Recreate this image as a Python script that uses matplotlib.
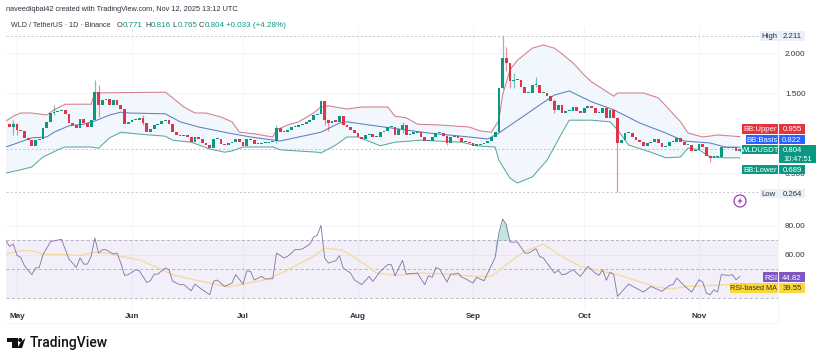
import numpy as np
import matplotlib
matplotlib.use('Agg')
import matplotlib.pyplot as plt
from matplotlib.patches import Rectangle, Circle, Polygon

plt.rcParams['font.family'] = ['Liberation Sans', 'DejaVu Sans']

W, H = 825, 361

# day numbers count from May 1
month_days = [0, 31, 61, 92, 123, 153, 184]
month_labels = ['May', 'Jun', 'Jul', 'Aug', 'Sep', 'Oct', 'Nov']

first_open = 1.11
closes = [
    1.075, 1.11, 1.04, 1.025, 0.94, 0.91, 0.84, 0.91, 0.925, 1.06,
    1.14, 1.25, 1.26, 1.275, 1.29, 1.24, 1.125, 1.10, 1.06, 1.175,
    1.125, 1.075, 1.16, 1.51, 1.35, 1.41, 1.425, 1.35, 1.41, 1.35,
    1.30, 1.11, 1.14, 1.16, 1.16, 1.19, 1.125, 1.01, 1.05, 1.10,
    1.11, 1.15, 1.16, 1.11, 1.01, 0.975, 0.96, 0.975, 0.95, 0.885,
    0.95, 0.925, 0.875, 0.85, 0.81, 0.925, 0.925, 0.865, 0.85, 0.875,
    0.885, 0.925, 0.885, 0.84, 0.925, 0.91, 0.86, 0.86, 0.875, 0.875,
    0.885, 0.90, 1.06, 1.01, 1.01, 1.04, 1.075, 1.075, 1.10, 1.11,
    1.14, 1.16, 1.225, 1.24, 1.40, 1.16, 1.125, 1.15, 1.14, 1.21,
    1.10, 1.075, 1.04, 1.00, 0.95, 0.925, 0.975, 0.99, 0.95, 0.95,
    1.01, 1.025, 1.075, 1.075, 0.975, 1.05, 1.10, 0.975, 0.99, 1.00,
    1.01, 0.95, 0.90, 0.90, 0.95, 1.00, 1.00, 0.96, 0.875, 0.95,
    0.95, 0.94, 0.885, 0.885, 0.875, 0.84, 0.85, 0.86, 0.875, 0.90,
    0.95, 1.01, 1.56, 1.94, 1.875, 1.65, 1.66, 1.66, 1.575, 1.50,
    1.50, 1.60, 1.60, 1.50, 1.50, 1.46, 1.40, 1.29, 1.35, 1.25,
    1.275, 1.275, 1.325, 1.275, 1.25, 1.31, 1.335, 1.31, 1.25, 1.25,
    1.31, 1.19, 1.29, 1.19, 0.875, 0.91, 1.00, 1.00, 0.95, 0.91,
    0.885, 0.84, 0.875, 0.885, 0.925, 0.875, 0.825, 0.84, 0.885, 0.885,
    0.94, 0.885, 0.85, 0.85, 0.775, 0.79, 0.86, 0.825, 0.715, 0.69,
    0.70, 0.70, 0.825, 0.81, 0.81, 0.825, 0.771, 0.804,
]

# only the wicks that can be made out in the picture
wick_days = [-1, 0, 10, 21, 22, 34, 70, 83, 84, 104, 116, 131, 132, 133, 134, 140, 145, 162, 187, 195]
wick_highs = [1.16, 1.13, 1.35, 1.66, 1.60, 1.22, 1.10, 1.40, 1.16, 1.14, 0.98, 2.211, 2.075, 1.88, 1.75, 1.70, 1.42, 1.20, 0.73, 0.816]
wick_lows = [0.98, 0.98, 1.22, 1.45, 1.20, 1.10, 0.88, 1.10, 1.03, 1.00, 0.85, 1.55, 1.78, 1.56, 1.56, 1.58, 1.25, 0.264, 0.635, 0.765]

upper_days = [-3, -1, 1, 4, 8, 10, 13, 17, 20, 21, 28, 40, 42, 45, 48, 51, 55, 58, 60, 64, 69, 70, 73, 76, 80, 82, 84, 89, 93, 100, 102, 105, 108, 114, 122, 125, 128, 130, 131, 133, 135, 139, 142, 145, 147, 150, 153, 155, 161, 162, 169, 173, 176, 179, 181, 185, 189, 195]
upper = [1.15, 1.21, 1.25, 1.25, 1.225, 1.29, 1.36, 1.36, 1.36, 1.50, 1.505, 1.51, 1.44, 1.325, 1.25, 1.25, 1.20, 1.14, 1.01, 0.99, 0.95, 1.04, 1.10, 1.14, 1.25, 1.325, 1.34, 1.30, 1.325, 1.325, 1.21, 1.19, 1.11, 1.10, 1.075, 1.025, 1.01, 1.16, 1.475, 1.79, 1.91, 2.06, 2.10, 2.06, 1.99, 1.875, 1.725, 1.64, 1.46, 1.50, 1.50, 1.44, 1.29, 1.14, 1.00, 0.95, 0.975, 0.955]

basis_days = [-3, 1, 4, 8, 10, 14, 18, 21, 25, 28, 30, 40, 44, 49, 57, 63, 71, 76, 82, 87, 89, 95, 103, 111, 122, 127, 130, 136, 141, 145, 149, 155, 161, 168, 175, 180, 187, 191, 195]
basis = [0.825, 0.89, 0.94, 0.95, 1.01, 1.09, 1.11, 1.15, 1.225, 1.26, 1.25, 1.24, 1.14, 1.075, 1.00, 0.95, 0.90, 0.95, 1.01, 1.125, 1.14, 1.10, 1.05, 1.00, 0.95, 0.925, 1.00, 1.19, 1.35, 1.475, 1.525, 1.39, 1.29, 1.125, 1.00, 0.90, 0.875, 0.825, 0.822]

lower_days = [-3, 1, 4, 7, 12, 13, 20, 22, 25, 28, 32, 40, 42, 47, 52, 56, 58, 61, 69, 71, 81, 82, 86, 89, 92, 98, 102, 109, 120, 124, 129, 130, 133, 135, 139, 143, 147, 149, 155, 160, 162, 165, 171, 175, 179, 181, 184, 187, 191, 195]
lower = [0.50, 0.54, 0.575, 0.70, 0.81, 0.825, 0.825, 0.81, 0.94, 1.01, 0.99, 0.96, 0.91, 0.885, 0.80, 0.76, 0.775, 0.825, 0.825, 0.79, 0.76, 0.75, 0.85, 0.95, 0.95, 0.84, 0.885, 0.91, 0.885, 0.84, 0.825, 0.66, 0.435, 0.375, 0.45, 0.66, 1.00, 1.16, 1.16, 1.14, 1.04, 0.85, 0.76, 0.69, 0.70, 0.81, 0.79, 0.70, 0.69, 0.689]

rsi_days = [-3, -2, -1, 0, 1, 2, 4, 5, 6, 7, 9, 10, 12, 14, 16, 17, 18, 19, 20, 21, 22, 23, 24, 26, 27, 28, 29, 30, 32, 33, 35, 36, 37, 38, 40, 41, 42, 44, 45, 47, 48, 50, 52, 53, 54, 56, 58, 59, 61, 62, 63, 64, 66, 67, 69, 70, 71, 72, 73, 75, 77, 79, 80, 81, 82, 83, 84, 86, 87, 88, 90, 91, 93, 95, 96, 98, 100, 101, 102, 104, 105, 108, 110, 111, 112, 113, 114, 116, 117, 118, 119, 120, 121, 123, 124, 126, 129, 130, 131, 132, 133, 135, 137, 138, 140, 141, 142, 145, 146, 147, 148, 150, 152, 154, 156, 157, 158, 159, 160, 161, 162, 165, 169, 171, 174, 176, 177, 178, 180, 182, 184, 185, 186, 187, 188, 189, 190, 192, 193, 194, 195]
rsi = [69.5, 65.6, 67.2, 59.4, 58.0, 52.3, 46.1, 50.7, 51.1, 59.9, 68.6, 69.5, 70.5, 56.9, 51.1, 57.6, 53.4, 53.4, 58.7, 71.4, 61.0, 63.3, 63.3, 60.3, 61.0, 54.1, 45.6, 46.1, 49.5, 48.8, 40.8, 41.9, 46.5, 46.5, 50.7, 49.5, 41.5, 39.2, 39.2, 35.0, 39.6, 35.7, 32.3, 41.5, 42.4, 38.0, 40.3, 46.1, 39.6, 48.8, 48.4, 42.4, 44.9, 43.1, 43.3, 61.0, 59.4, 57.6, 58.7, 63.3, 63.8, 67.2, 72.1, 73.2, 80.1, 57.6, 54.1, 55.7, 59.2, 50.7, 47.2, 42.6, 39.2, 44.9, 41.5, 48.4, 53.0, 53.0, 45.4, 56.0, 46.5, 47.2, 39.2, 45.4, 44.2, 51.1, 50.0, 41.0, 46.5, 46.5, 47.2, 44.2, 43.3, 40.3, 44.2, 41.9, 58.0, 74.8, 84.5, 80.6, 68.6, 68.6, 61.0, 61.0, 64.0, 58.7, 57.6, 47.2, 49.1, 46.1, 46.5, 49.5, 44.9, 51.8, 47.2, 45.6, 49.5, 42.2, 47.9, 46.1, 31.1, 39.6, 34.1, 38.0, 34.6, 38.7, 39.2, 43.8, 38.5, 34.1, 42.6, 41.0, 33.4, 32.3, 35.7, 34.1, 46.1, 45.6, 46.1, 42.6, 44.82]

rsi_ma_days = [-3, -1, 1, 4, 7, 13, 17, 21, 24, 28, 33, 38, 42, 49, 57, 61, 67, 71, 76, 80, 83, 88, 92, 97, 102, 109, 116, 123, 128, 132, 137, 142, 147, 152, 162, 172, 176, 181, 195]
rsi_ma = [60.6, 61.5, 62.6, 62.6, 60.3, 59.9, 59.4, 61.5, 61.0, 58.7, 56.4, 50.7, 46.1, 41.9, 37.6, 39.6, 42.6, 46.8, 53.4, 58.7, 64.5, 62.9, 56.4, 47.2, 45.6, 47.2, 46.5, 44.9, 44.9, 53.0, 62.2, 67.2, 58.7, 51.8, 46.1, 38.0, 36.2, 38.0, 39.55]

GREEN = '#089981'
RED = '#e0344a'
GRID = '#f2f4f8'
DARK = '#2f3240'
TAG_SIZE = 5.6


def pixel_axes(fig, left, top, right, bottom):
    return fig.add_axes([left / W, 1 - bottom / H, (right - left) / W, (bottom - top) / H])


def tag(ov, x0, x1, y0, y1, color, text, text_color='white', size=TAG_SIZE):
    ov.add_patch(Rectangle((x0, y0), x1 - x0, y1 - y0, fc=color, ec='none'))
    ov.text((x0 + x1) / 2, (y0 + y1) / 2, text, color=text_color, fontsize=size, ha='center', va='center_baseline')


fig = plt.figure(figsize=(W / 100, H / 100), dpi=100, facecolor='white')

# price pane
ax = pixel_axes(fig, 6, 27, 778, 209)
ax.set_xlim(-2.97, 205.3)
ax.set_ylim(0.05, 2.325)
for s in ax.spines.values():
    s.set_visible(False)
ax.set_xticks(month_days)
ax.set_yticks([0.5, 1.0, 1.5, 2.0])
ax.set_yticklabels(['0.500', '', '1.500', '2.000'], fontsize=5.9, color=DARK)
ax.yaxis.tick_right()
ax.tick_params(length=0, labelbottom=False, pad=5)
ax.grid(color=GRID, lw=0.7)
ax.set_axisbelow(True)

ax.fill(np.r_[upper_days, lower_days[::-1]], np.r_[upper, lower[::-1]], color='#f1f7fd', lw=0, zorder=1)
ax.plot(upper_days, upper, color='#d17d8c', lw=0.75, zorder=2)
ax.plot(basis_days, basis, color='#5c7fbd', lw=0.75, zorder=2)
ax.plot(lower_days, lower, color='#5da89c', lw=0.75, zorder=2)

for level in [2.211, 0.804, 0.264]:
    ax.axhline(level, color='#bcc0c8', lw=0.6, ls=(0, (2.5, 2.5)), zorder=1)

closes_arr = np.array(closes)
opens_arr = np.r_[first_open, closes_arr[:-1]]
days = np.arange(-2, -2 + len(closes_arr))
candle_colors = [GREEN if c >= o else RED for o, c in zip(opens_arr, closes_arr)]
for d, hi, lo in zip(wick_days, wick_highs, wick_lows):
    col = candle_colors[d + 2]
    ax.vlines(d, lo, hi, color=col, lw=0.9, alpha=0.55, zorder=3)
heights = np.maximum(np.abs(closes_arr - opens_arr), 0.018)
ax.bar(days, heights, bottom=np.minimum(opens_arr, closes_arr), width=0.74, color=candle_colors, lw=0, zorder=4)

# RSI pane
rx = pixel_axes(fig, 6, 209, 778, 307)
rx.set_xlim(-2.97, 205.3)
rx.set_ylim(23.8, 91.4)
for s in rx.spines.values():
    s.set_visible(False)
rx.set_xticks(month_days)
rx.set_xticklabels(month_labels, fontsize=5.9, color=DARK, fontweight='bold')
rx.set_yticks([60, 80])
rx.set_yticklabels(['60.00', '80.00'], fontsize=5.9, color=DARK)
rx.yaxis.tick_right()
rx.tick_params(length=0, pad=5)
rx.tick_params(axis='x', pad=4.5)
rx.grid(color=GRID, lw=0.7)
rx.set_axisbelow(True)
rx.axhspan(30, 70, color='#7e57c2', alpha=0.09, lw=0, zorder=1)
for level in [30, 50, 70]:
    rx.axhline(level, color='#a8a3b6', lw=0.55, ls=(0, (4, 3)), zorder=2)
rsi_arr = np.array(rsi)
rsi_days_arr = np.array(rsi_days)
peak = (rsi_days_arr >= 129) & (rsi_days_arr <= 133)
rx.fill_between(rsi_days_arr, 70, rsi_arr, where=peak, interpolate=True, color=GREEN, alpha=0.25, lw=0, zorder=2)
rx.plot(rsi_ma_days, rsi_ma, color='#f5d9a0', lw=0.95, zorder=3)
rx.plot(rsi_days, rsi, color='#7d72a6', lw=0.6, zorder=4)

# overlay in pixels for header, tags and logo
ov = fig.add_axes([0, 0, 1, 1], zorder=5)
ov.set_xlim(0, W)
ov.set_ylim(H, 0)
ov.axis('off')
ov.patch.set_alpha(0)

ov.text(6, 9.5, 'naveediqbal42 created with TradingView.com, Nov 12, 2025 13:12 UTC', fontsize=5.35, color=DARK, va='center')
ov.text(11, 25.5, 'WLD / TetherUS · 1D · Binance', fontsize=5.15, color=DARK, va='center')
header_x = [117, 145, 172, 199, 226]
header_lab = ['O', 'H', 'L', 'C', '']
header_val = ['0.771', '0.816', '0.765', '0.804', '+0.033 (+4.28%)']
for x, lab, val in zip(header_x, header_lab, header_val):
    if lab:
        ov.text(x, 25.5, lab, fontsize=5.3, color=DARK, va='center')
    ov.text(x + (5.5 if lab else 0), 25.5, val, fontsize=5.8, color=GREEN, va='center')

ov.plot([6, 778], [323, 323], color='#f4f5f8', lw=0.8)
ov.plot([778, 778], [27, 323], color='#f4f5f8', lw=0.8)

PALE = '#e9f0fa'
tag(ov, 760, 778, 31, 41, PALE, 'High', DARK)
tag(ov, 779, 805, 31, 41, PALE, '2.211', DARK)
tag(ov, 760, 778, 189, 198, PALE, 'Low', DARK)
tag(ov, 779, 805, 189, 198, PALE, '0.264', DARK)
tag(ov, 742, 778, 124, 133.5, '#e5323f', 'BB:Upper')
tag(ov, 779, 805, 124, 133.5, '#e5323f', '0.955')
tag(ov, 746, 778, 135, 144, '#2962ff', 'BB:Basis')
tag(ov, 779, 805, 135, 144, '#2962ff', '0.822')
tag(ov, 742, 778, 145, 154, GREEN, 'WLDUSDT')
ov.add_patch(Rectangle((779, 145), 37, 18, fc=GREEN, ec='none'))
ov.text(792, 149.5, '0.804', color='white', fontsize=TAG_SIZE, ha='center', va='center_baseline')
ov.text(797.5, 158.5, '10:47:51', color='white', fontsize=5.3, ha='center', va='center_baseline')
tag(ov, 742, 778, 165, 174, GREEN, 'BB:Lower')
tag(ov, 779, 805, 165, 174, GREEN, '0.689')
tag(ov, 763, 778, 272, 282, '#7e57c2', 'RSI')
tag(ov, 779, 805, 272, 282, '#7e57c2', '44.82')
tag(ov, 730, 778, 283, 293, '#fdd835', 'RSI-based MA', DARK, 5.2)
tag(ov, 779, 805, 283, 293, '#fdd835', '39.55', DARK)

# lightning marker
ov.add_patch(Circle((740, 201), 6, fc='white', ec='#9c3fb0', lw=0.9))
ov.add_patch(Polygon([(741.5, 197), (737.5, 201.8), (739.8, 201.8), (738.5, 205), (742.5, 200.2), (740.2, 200.2)], fc='#9c3fb0', ec='none'))

# TradingView logo
ov.add_patch(Polygon([(7, 338), (17.5, 338), (17.5, 348), (12, 348), (12, 342), (7, 342)], fc='#111111', ec='none'))
ov.add_patch(Circle((20.2, 340), 2, fc='#111111', ec='none'))
ov.add_patch(Polygon([(20.5, 342.5), (25.5, 338), (22, 348), (17.5, 348)], fc='#111111', ec='none'))
ov.text(30, 342.8, 'TradingView', fontsize=10, color='#111111', va='center', fontweight='medium', family=['Roboto', 'DejaVu Sans'])

fig.savefig('out.png', dpi=100)
